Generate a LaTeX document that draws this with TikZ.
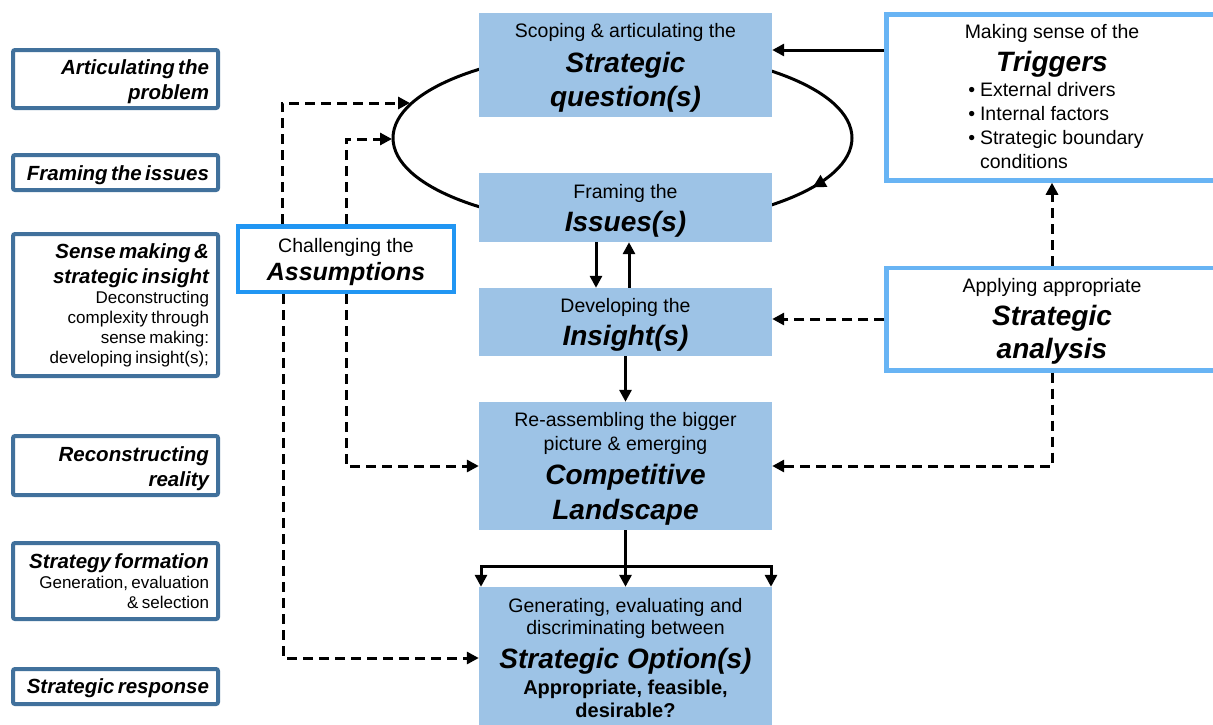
\documentclass[tikz,border=0pt]{standalone}
\usepackage{fontspec}
\setmainfont{Liberation Sans}
\usetikzlibrary{arrows.meta,calc,decorations.markings}

\definecolor{corefill}{RGB}{157,195,230}
\definecolor{stagefrm}{RGB}{65,113,156}
\definecolor{inputfrm}{RGB}{104,180,244}
\definecolor{assumfrm}{RGB}{33,150,243}

% text sizes
\newcommand\txtS{\fontsize{19.5}{24}\selectfont}
\newcommand\txtC{\txtS\lineskiplimit=-100pt\relax}
\newcommand\txtB{\fontsize{28}{32}\selectfont\bfseries\itshape}
\newcommand\txtL{\fontsize{20.5}{25}\selectfont\bfseries\itshape}
\newcommand\txtLs{\fontsize{17}{20}\selectfont\mdseries\upshape}
% invisible strut that lowers a text block
\newcommand\topgap[1]{\rule{0pt}{#1}}

\begin{document}
\begin{tikzpicture}[x=1pt,y=-1pt,
  stage/.style={draw=stagefrm, line width=4pt, rounded corners=2pt, fill=white,
    minimum width=205pt, text width=187pt, align=right, inner sep=0pt},
  core/.style={fill=corefill, minimum width=293pt, align=center, inner sep=0pt,
    font=\txtC},
  input/.style={draw=inputfrm, line width=4.5pt, fill=white, align=center, inner sep=0pt,
    font=\txtC},
  tip/.style={-{Triangle[length=12pt,width=12pt]}},
  conn/.style={line width=3pt, tip},
  dconn/.style={conn, dash pattern=on 10pt off 6pt},
]
\useasboundingbox (0,0) rectangle (1213,724);
\fill[white] (0,0) rectangle (1213,724);

% cycle between question and issues (behind the boxes)
\coordinate (ec) at (622.5,138);
\draw[line width=3pt, postaction={decorate},
  decoration={markings, mark=at position 0.937 with {\arrowreversed{Triangle[length=13pt,width=13pt]}}}]
  (ec) ellipse [x radius=229.5pt, y radius=88pt];

% stages on the left
\node[stage, minimum height=58pt] (s1) at (115.5,79) {\txtL\topgap{21pt}Articulating the\\problem\par};
\node[stage, minimum height=35pt] (s2) at (115.5,172.5) {\txtL\topgap{21pt}Framing the issues\par};
\node[stage, minimum height=142pt] (s3) at (115.5,305)
  {\txtL Sense making \&\\strategic insight\par\txtLs Deconstructing\\complexity through\\sense making:\\developing insight(s);\par};
\node[stage, minimum height=59pt] (s4) at (115.5,465.5) {\txtL\topgap{21pt}Reconstructing\\reality\par};
\node[stage, minimum height=76pt] (s5) at (115.5,581)
  {\txtL Strategy formation\par\txtLs Generation, evaluation\\\& selection\par};
\node[stage, minimum height=35pt] (s6) at (115.5,686.5) {\txtL\topgap{19pt}Strategic response\par};

% core process
\node[core, minimum height=104pt] (sq) at (625.5,65)
  {\topgap{19pt}Scoping \& articulating the\\[11pt]{\txtB Strategic}\\[10pt]{\txtB question(s)}};
\node[core, minimum height=69pt] (iss) at (625.5,207.5)
  {\topgap{20pt}Framing the\\[9pt]{\txtB Issues(s)}};
\node[core, minimum height=68pt] (ins) at (625.5,322)
  {\topgap{20pt}Developing the\\[9pt]{\txtB Insight(s)}};
\node[core, minimum height=128pt] (cl) at (625.5,466)
  {\topgap{19pt}Re-assembling the bigger\\picture \& emerging\\[10pt]{\txtB Competitive}\\[11pt]{\txtB Landscape}};
\node[core, minimum height=142pt] (opt) at (625.5,658)
  {Generating, evaluating and\\[-2pt]discriminating between\\[10pt]{\txtB Strategic Option(s)}\\[2pt]
   {\fontsize{20}{24}\selectfont\bfseries Appropriate, feasible,}\\[-1pt]{\fontsize{20}{24}\selectfont\bfseries desirable?}};

% inputs on the right
\node[input, minimum width=331pt, minimum height=166pt] (trig) at (1052,97.5)
  {\topgap{20pt}Making sense of the\\[9pt]{\txtB Triggers}\\[1pt]
   \hspace*{8pt}\lineskiplimit=0pt\relax
   \begin{tabular}[t]{@{}l@{\hspace{5pt}}l@{}}
     \textbullet & External drivers\\
     \textbullet & Internal factors\\
     \textbullet & Strategic boundary\\
                 & conditions
   \end{tabular}};
\node[input, minimum width=331pt, minimum height=102.5pt] (sa) at (1052,319)
  {\topgap{19pt}Applying appropriate\\[9pt]{\txtB Strategic}\\[9pt]{\txtB analysis}};

% assumptions
\node[input, draw=assumfrm, minimum width=216pt, minimum height=65.5pt] (as) at (346,259)
  {\topgap{20pt}Challenging the\\[4pt]{\fontsize{25}{30}\selectfont\bfseries\itshape Assumptions}};

% connectors
\coordinate (yq) at (0,50);
\draw[conn] (trig.west |- yq) -- (sq.east |- yq);
\draw[dconn] (sa.north) -- (trig.south);
\draw[dconn] (sa.west) -- (sa.west -| ins.east);
\draw[dconn] (sa.south) |- (cl.east);

\draw[conn] ([xshift=-29.5pt]iss.south) -- ([xshift=-29.5pt]ins.north);
\draw[conn] ([xshift=3.5pt]ins.north) -- ([xshift=3.5pt]iss.south);
\draw[conn] (ins.south) -- (cl.north);

\coordinate (split) at (625.5,566);
\coordinate (bl) at (481,566);
\coordinate (br) at (771,566);
\draw[conn] (cl.south) -- (opt.north);
\draw[conn] (split) -| (opt.north -| bl);
\draw[conn] (split) -| (opt.north -| br);

\coordinate (e1) at (410,103);
\coordinate (e2) at (392,139);
\draw[dconn] ([xshift=-64pt]as.north) |- (e1);
\draw[dconn] (as.north) |- (e2);
\draw[dconn] (as.south) |- (cl.west);
\draw[dconn] ([xshift=-63pt]as.south) |- (opt.west);
\end{tikzpicture}
\end{document}
